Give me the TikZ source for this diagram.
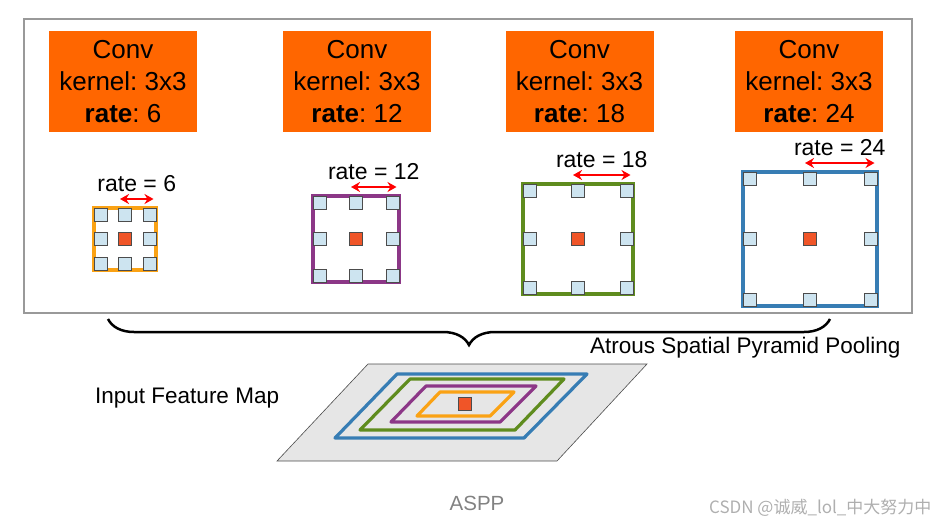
\documentclass[tikz,border=0pt]{standalone}
\usepackage{fontspec}
\setmainfont{Liberation Sans}
\newfontfamily\cjkfont{Noto Sans CJK SC}
\usetikzlibrary{arrows.meta, decorations.pathreplacing, positioning}
\frenchspacing

\definecolor{convorange}{RGB}{255,102,0}
\definecolor{rateorange}{RGB}{250,162,20}
\definecolor{ratepurple}{RGB}{140,55,135}
\definecolor{rategreen}{RGB}{95,140,30}
\definecolor{rateblue}{RGB}{55,125,180}
\definecolor{tapblue}{RGB}{205,228,240}
\definecolor{centerred}{RGB}{240,85,40}
\definecolor{mapgray}{RGB}{230,230,230}
\definecolor{captiongray}{RGB}{130,130,130}
\definecolor{markgray}{RGB}{175,175,175}

\tikzset{
  convbox/.style={fill=convorange, minimum width=148pt, minimum height=101pt,
    inner sep=0pt, align=center, font=\fontsize{26}{32}\selectfont},
  tap/.style={draw=black!70, fill=tapblue, minimum size=13pt, inner sep=0pt, line width=0.8pt},
  centertap/.style={tap, fill=centerred},
  ratelabel/.style={font=\fontsize{23}{26}\selectfont, inner sep=0pt},
  ratearrow/.style={{Stealth[length=9pt,width=10pt]}-{Stealth[length=9pt,width=10pt]}, red, line width=2.6pt},
  plaintext/.style={font=\fontsize{22.5}{26}\selectfont, inner sep=0pt},
  ring/.style={line width=3.2pt, line join=round},
}

\begin{document}
\begin{tikzpicture}[x=1pt, y=-1pt, >=Stealth]
    \useasboundingbox (0,0) rectangle (939,523);

    % frame
    \draw[gray!80, line width=1.2pt] (24,19) rectangle (912,313);

    % conv boxes
    \foreach \r/\cx in {6/123, 12/357, 18/579.5, 24/809}
        \node[convbox] (conv\r) at (\cx,81.5) {Conv\\kernel: 3x3\\\textbf{rate}: \r};

    % dilated kernels
    \foreach \r/\cx/\h/\col in {6/125/31/rateorange, 12/356/43/ratepurple, 18/578/55/rategreen, 24/810/67/rateblue} {
        \pgfmathsetmacro\d{\h-6.5}
        \draw[\col, line width=3.2pt] (\cx-\h,239-\h) rectangle (\cx+\h,239+\h);
        \foreach \i in {1,2,3}
            \foreach \j in {1,2,3}
                \node[tap] (tap\r\i\j) at (\cx+\i*\d-2*\d,239+\j*\d-2*\d) {};
        \node[centertap] (mid\r) at (\cx,239) {};
        \coordinate (arr\r l) at (\cx-5,239-\h-9);
        \coordinate (arr\r r) at (\cx+\h-2.5,239-\h-9);
        \draw[ratearrow] (arr\r l) -- (arr\r r);
        \path (arr\r l) -- (arr\r r) coordinate[midway] (arr\r m);
        \node[ratelabel, above=7pt of arr\r m] (lab\r) {rate = \r};
    }

    % brace
    \coordinate (braceR) at (830,319);
    \coordinate (braceL) at (108,319);
    \draw[decorate, decoration={brace, amplitude=26pt}, line width=2.5pt] (braceR) -- (braceL);

    \node[plaintext, anchor=west] (aspp) at (590,348) {Atrous Spatial Pyramid Pooling};
    \node[plaintext, anchor=west] (input) at (95,398) {Input Feature Map};

    % feature map
    \draw[fill=mapgray, draw=gray!60!black, line width=0.6pt] (368,364) -- (647,364) -- (557,461) -- (277,461) -- cycle;
    \draw[ring, rateblue]   (397,374) -- (587,374) -- (524,438) -- (335,438) -- cycle;
    \draw[ring, rategreen]  (410,379) -- (564,379) -- (515,430) -- (360,430) -- cycle;
    \draw[ring, ratepurple] (426,386) -- (536,386) -- (500,422) -- (391,422) -- cycle;
    \draw[ring, rateorange] (440,392) -- (514,392) -- (490,416) -- (417,416) -- cycle;
    \node[centertap] (mapmid) at (465,404) {};

    % caption
    \node[font=\fontsize{20.5}{24}\selectfont, text=captiongray] (caption) at (477,503) {ASPP};
    \node[font=\cjkfont\fontsize{17}{19}\selectfont, text=markgray, anchor=east] (mark) at (935,508) {CSDN @诚威\_lol\_中大努力中};
\end{tikzpicture}
\end{document}
